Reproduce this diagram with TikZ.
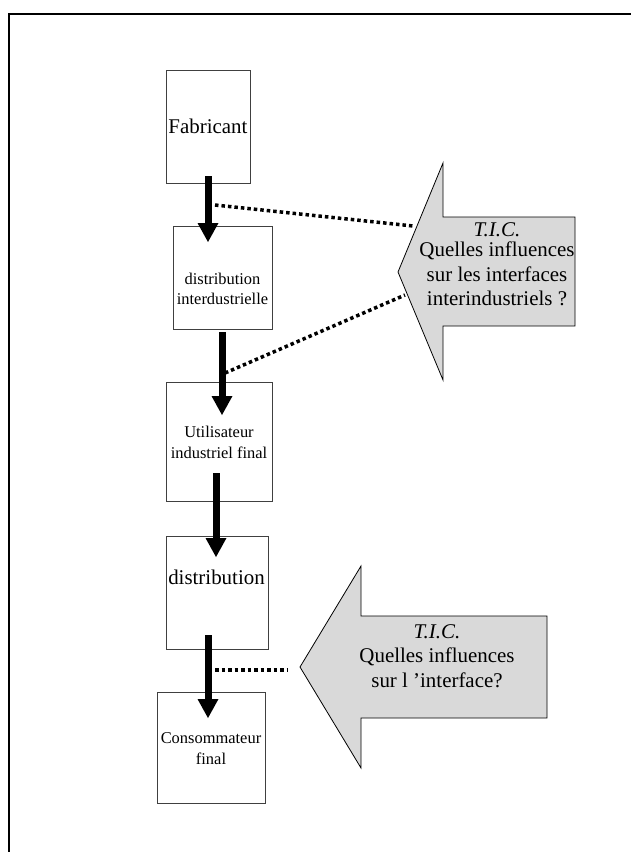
\documentclass[tikz,border=0pt]{standalone}
\usepackage{fontspec}
\setmainfont{Liberation Serif}
\usetikzlibrary{arrows.meta}
\begin{document}
\begin{tikzpicture}[x=1bp,y=-1bp,
  stage/.style={draw=black!75, line width=1bp, fill=white, inner sep=0pt},
  flow/.style={line width=7bp, -{Triangle[width=21bp,length=19bp,line width=0pt]}},
  link/.style={line width=3.5bp, dash pattern=on 3.5bp off 3bp},
  ticarrow/.style={draw=black, line width=0.8bp, fill=black!15, line join=miter},
  bigtxt/.style={font=\fontsize{21}{24.5}\selectfont, align=center, inner sep=0pt},
  smalltxt/.style={font=\fontsize{16.5}{20.5}\selectfont, align=center, inner sep=0pt}]
\useasboundingbox (0,0) rectangle (631,852);

% page frame (left and top edges)
\draw[line width=2bp] (9,852) -- (9,14) -- (631,14);

% chain of stages
\node[stage, minimum width=84bp,  minimum height=113bp] (fab)    at (208,126.5) {};
\node[stage, minimum width=99bp,  minimum height=103bp] (distint) at (222.5,277.5) {};
\node[stage, minimum width=106bp, minimum height=119bp] (util)   at (219,441.5) {};
\node[stage, minimum width=102bp, minimum height=113bp] (distr)  at (217,592.5) {};
\node[stage, minimum width=108bp, minimum height=111bp] (conso)  at (211,748) {};

\node[bigtxt]   (fabT)     at (208,126.8)   {Fabricant};
\node[smalltxt] (distintT) at (222.5,288.6) {distribution\\interdustrielle};
\node[smalltxt] (utilT)    at (219,442.3)   {Utilisateur\\industriel final};
\node[bigtxt]   (distrT)   at (216.5,577.8) {distribution};
\node[smalltxt] (consoT)   at (211,748.8)   {Consommateur\\final};

% flow arrows between stages
\coordinate (f1s) at (208,176); \coordinate (f1e) at (208,242);
\coordinate (f2s) at (222,332); \coordinate (f2e) at (222,415);
\coordinate (f3s) at (216,473); \coordinate (f3e) at (216,557);
\coordinate (f4s) at (208,635); \coordinate (f4e) at (208,718);
\draw[flow] (f1s) -- (f1e);
\draw[flow] (f2s) -- (f2e);
\draw[flow] (f3s) -- (f3e);
\draw[flow] (f4s) -- (f4e);

% T.I.C. block arrows
\draw[ticarrow] (398,272) -- (443,163) -- (443,217) -- (575,217)
  -- (575,326) -- (443,326) -- (443,380) -- cycle;
\draw[ticarrow] (300,667) -- (361,566) -- (361,616) -- (547,616)
  -- (547,718) -- (361,718) -- (361,768) -- cycle;

\node[bigtxt] (ticA) at (497,264.4)
  {\textit{T.I.C.}\\[-4bp]Quelles influences\\sur les interfaces\\interindustriels ?};
\node[bigtxt] (ticB) at (437,656)
  {\textit{T.I.C.}\\Quelles influences\\sur l ’interface?};

% dotted links to the interfaces
\coordinate (l1s) at (215,205); \coordinate (l1e) at (413,226);
\coordinate (l2s) at (225,373); \coordinate (l2e) at (405,295);
\coordinate (l3s) at (215,670); \coordinate (l3e) at (288,670);
\draw[link] (l1s) -- (l1e);
\draw[link] (l2s) -- (l2e);
\draw[link] (l3s) -- (l3e);
\end{tikzpicture}
\end{document}
